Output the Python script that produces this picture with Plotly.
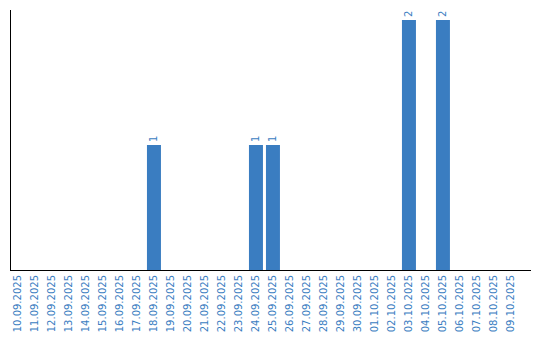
import plotly.graph_objects as go

dates = ["10.09.2025","11.09.2025","12.09.2025","13.09.2025","14.09.2025","15.09.2025",
         "16.09.2025","17.09.2025","18.09.2025","19.09.2025","20.09.2025","21.09.2025",
         "22.09.2025","23.09.2025","24.09.2025","25.09.2025","26.09.2025","27.09.2025",
         "28.09.2025","29.09.2025","30.09.2025","01.10.2025","02.10.2025","03.10.2025",
         "04.10.2025","05.10.2025","06.10.2025","07.10.2025","08.10.2025","09.10.2025"]
counts = [0,0,0,0,0,0,0,0,1,0,0,0,0,0,1,1,0,0,0,0,0,0,0,2,0,2,0,0,0,0]
labels = [str(c) if c > 0 else "" for c in counts]

blue = "#3a7dc1"
fig = go.Figure(go.Bar(
    x=list(range(len(dates))), y=counts, text=labels,
    textposition="outside", textangle=-90, cliponaxis=False,
    textfont=dict(family="DejaVu Sans", size=10, color=blue),
    marker=dict(color=blue, line=dict(width=0)), width=14/17,
))
fig.update_layout(
    width=540, height=340, margin=dict(l=11, r=9, t=10, b=70),
    plot_bgcolor="white", paper_bgcolor="white", showlegend=False,
    font=dict(family="DejaVu Sans", size=10, color=blue),
)
fig.update_xaxes(
    tickmode="array", tickvals=list(range(len(dates))), ticktext=dates,
    tickangle=-90, range=[-0.41, 30.18], showgrid=False, zeroline=False,
    showline=True, linecolor="black", linewidth=1, ticks="",
    tickfont=dict(family="DejaVu Sans", size=10, color=blue),
)
fig.update_yaxes(
    range=[0, 2.08], showgrid=False, zeroline=False, showticklabels=False,
    showline=True, linecolor="black", linewidth=1, ticks="",
)
fig.write_html("out.html")
